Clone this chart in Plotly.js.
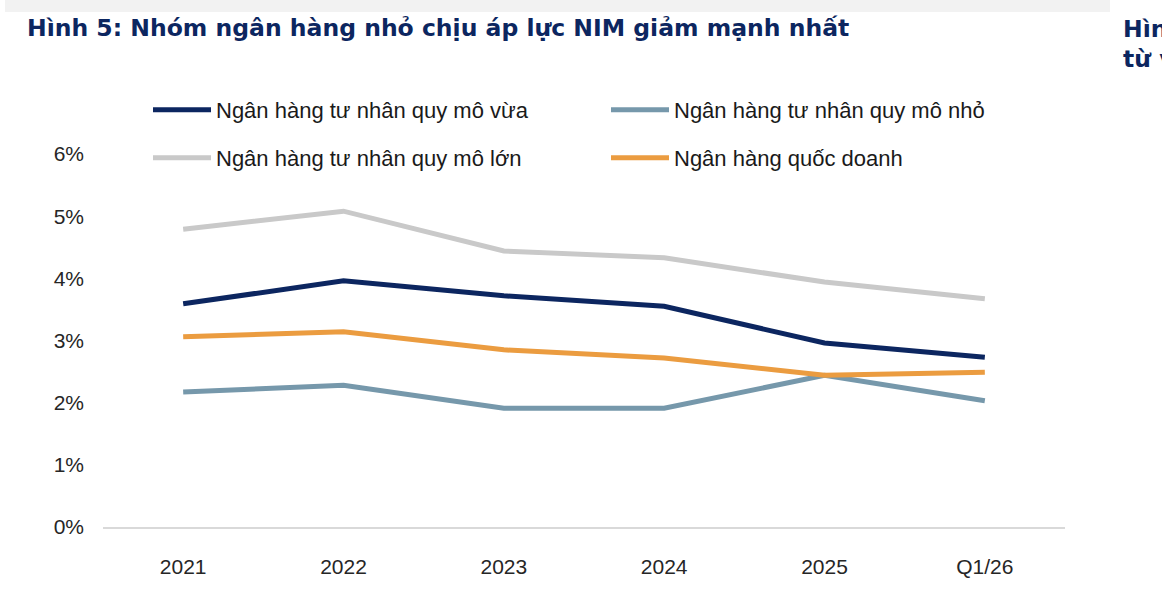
<!DOCTYPE html>
<html>
<head>
<meta charset="utf-8">
<script src="https://cdn.plot.ly/plotly-3.0.1.min.js"></script>
<style>
html,body{margin:0;padding:0;background:#fff;}
#chart{width:1162px;height:592px;}
</style>
</head>
<body>
<div id="chart"></div>
<script>
// ---- data ----
const categories = ["2021", "2022", "2023", "2024", "2025", "Q1/26"];
const seriesNames = [
  "Ngân hàng tư nhân quy mô vừa",
  "Ngân hàng tư nhân quy mô nhỏ",
  "Ngân hàng tư nhân quy mô lớn",
  "Ngân hàng quốc doanh"
];
const nimMedium = [3.59, 3.96, 3.72, 3.55, 2.96, 2.73];
const nimSmall  = [2.17, 2.28, 1.91, 1.91, 2.44, 2.03];
const nimLarge  = [4.79, 5.08, 4.44, 4.33, 3.94, 3.67];
const nimState  = [3.06, 3.14, 2.85, 2.72, 2.44, 2.49];
const yTickVals = [0, 1, 2, 3, 4, 5, 6];
const yTickText = ["0%", "1%", "2%", "3%", "4%", "5%", "6%"];
const titleText = "Hình 5: Nhóm ngân hàng nhỏ chịu áp lực NIM giảm mạnh nhất";
const sideText1 = "Hìn";
const sideText2 = "từ v";

// ---- styles ----
const W = 1162, H = 592;
const L = 103, R = 1065, T = 154, B = 527;
const FONT = "Liberation Sans, Arial, sans-serif";
const TFONT = "DejaVu Sans, Liberation Sans, sans-serif";
const colors = ["#0c2660", "#7698ab", "#c9c9c9", "#eb9c40"];
const px = x => (x - L) / (R - L);
const py = y => (B - y) / (B - T);

const values = [nimMedium, nimSmall, nimLarge, nimState];
const legends = ["legend", "legend", "legend2", "legend2"];
const traces = values.map((v, i) => ({
  type: "scatter",
  mode: "lines",
  x: categories,
  y: v,
  name: seriesNames[i],
  legend: legends[i],
  line: {color: colors[i], width: 5, shape: "linear"},
  hoverinfo: "skip"
}));

const legendCommon = {
  orientation: "h",
  xanchor: "left",
  yanchor: "middle",
  font: {family: FONT, size: 22, color: "#1a1a1a"},
  bgcolor: "rgba(0,0,0,0)",
  itemwidth: 58,
  entrywidth: 385,
  entrywidthmode: "pixels",
  itemclick: false,
  itemdoubleclick: false
};

const layout = {
  width: W,
  height: H,
  paper_bgcolor: "#ffffff",
  plot_bgcolor: "#ffffff",
  margin: {l: L, r: W - R, t: T, b: H - B, pad: 0},
  title: {
    text: "<b>" + titleText + "</b>",
    font: {family: TFONT, size: 23.5, color: "#0c2660"},
    x: 27 / W, xanchor: "left", xref: "container",
    y: 1 - 28 / H, yanchor: "middle", yref: "container"
  },
  xaxis: {
    type: "category",
    range: [-0.5, 5.5],
    showgrid: false,
    zeroline: false,
    showline: true,
    linecolor: "#d9d9d9",
    linewidth: 2,
    ticks: "",
    ticklabelstandoff: 20,
    tickfont: {family: FONT, size: 21, color: "#262626"},
    fixedrange: true
  },
  yaxis: {
    range: [0, 6],
    tickvals: yTickVals,
    ticktext: yTickText,
    showgrid: false,
    zeroline: false,
    showline: false,
    ticks: "",
    ticklabelstandoff: 18,
    tickfont: {family: FONT, size: 21, color: "#262626"},
    fixedrange: true
  },
  legend: Object.assign({}, legendCommon, {x: px(148), y: py(110)}),
  legend2: Object.assign({}, legendCommon, {x: px(148), y: py(158)}),
  shapes: [{
    type: "rect", xref: "paper", yref: "paper",
    x0: px(5), x1: px(1110), y0: py(12), y1: py(0),
    fillcolor: "#f2f2f2", line: {width: 0}, layer: "below"
  }],
  annotations: [
    {text: "<b>" + sideText1 + "</b>", xref: "paper", yref: "paper", x: px(1121), y: py(29),
     xanchor: "left", yanchor: "middle", showarrow: false,
     font: {family: TFONT, size: 23.5, color: "#0c2660"}},
    {text: "<b>" + sideText2 + "</b>", xref: "paper", yref: "paper", x: px(1121), y: py(59),
     xanchor: "left", yanchor: "middle", showarrow: false,
     font: {family: TFONT, size: 23.5, color: "#0c2660"}}
  ],
  showlegend: true
};

Plotly.newPlot("chart", traces, layout, {displayModeBar: false, staticPlot: true});
</script>
</body>
</html>
